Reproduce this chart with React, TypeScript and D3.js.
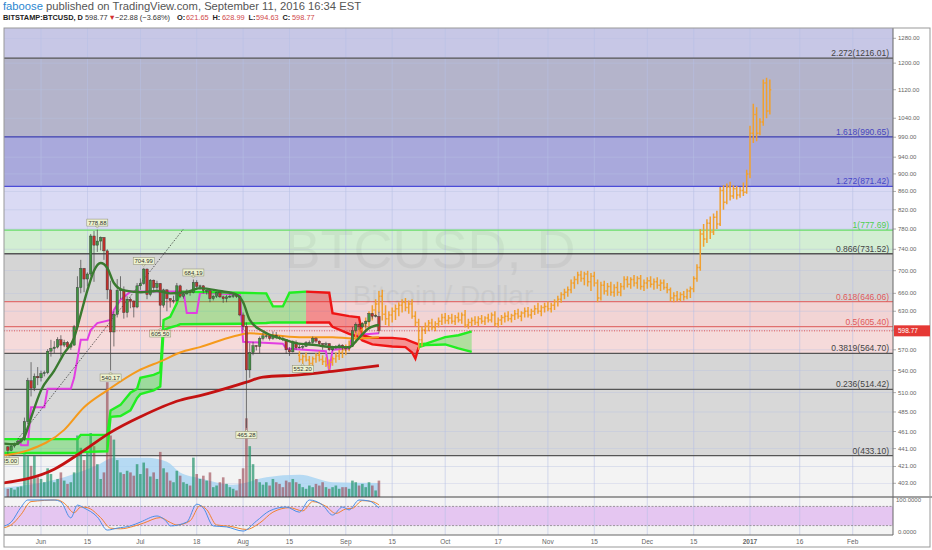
import React from "react";
import * as d3 from "d3";

const W = 932;
const H = 550;
const PL = 4;
const PR = 893;
const PT = 28;
const MB = 497;
const SB = 535;

const parse = (s: string) => d3.utcParse("%Y-%m-%d")(s) as Date;

// daily candles, BITSTAMP:BTCUSD  [open, high, low, close]
const CANDLE_START = "2016-05-22";
const candles: number[][] = [
  [443,444,435,439],[439,446,438,444],[444,448,442,446],[446,451,445,449],[449,453,447,452],[452,478,450,473],[473,530,470,526],[526,552,505,516],[516,536,512,532],[532,545,520,530],
  [530,540,525,536],[536,540,532,537],[537,571,535,568],[568,585,560,572],[572,583,565,574],[574,589,572,585],[585,592,560,577],[577,585,574,581],[581,583,570,574],[574,580,570,577],
  [577,608,576,605],[605,690,603,670],[670,720,660,704],[704,705,662,685],[685,697,672,694],[694,770,690,766],[766,776,680,748],[748,778.88,735,756],[756,765,738,763],[763,764,720,737],
  [737,740,650,666],[666,682,540.17,597],[597,630,575,625],[625,685,620,665],[665,690,650,666],[666,672,618,628],[628,655,620,650],[650,653,635,647],[647,648,620,637],[637,678,635,673],
  [673,686,666,677],[677,704.99,675,703],[703,704,650,658],[658,685,655,683],[683,684,662,670],[670,682,664,677],[677,678,605.5,640],[640,668,636,666],[666,667,630,651],[651,652,636,648],
  [648,656,643,648],[648,678,646,673],[673,675,652,655],[655,662,651,659],[659,667,658,664],[664,666,656,661],[661,684.19,660,679],[679,683,668,672],[672,675,666,673],[673,674,660,665],
  [665,667,658,665],[665,668,645,651],[651,657,648,655],[655,663,652,661],[661,662,652,654],[654,656,644,651],[651,657,645,654],[654,658,652,655],[655,658,652,656],[656,659,652,655],[655,656,622,624],
  [624,628,600,606],[606,612,465.28,541],[541,580,530,566],[566,582,562,576],[576,577,569,575],[575,590,565,587],[587,596,584,591],[591,593,587,591],[591,592,584,587],[587,598,585,592],
  [592,597,586,589],[589,591,585,587],[587,590,583,585],[585,586,564,570],[570,574,561,567],[567,584,566,581],[581,584,570,573],[573,578,572,574],[574,577,571,575],[575,583,574,581],
  [581,584,579,581],[581,590,579,587],[587,589,580,583],[583,584,577,579],[579,580,570,578],[578,582,576,579],[579,580,568,570],[570,576,568,574],[574,577,571,574],[574,579,572,577],[577,578,570,573],
  [573,574,568,572],[572,576,570,575],[575,605,574,599],[599,612,596,609],[609,610,600,605],[605,612,603,610],[610,615,604,613],[613,627,612,626],[626,627,618,622],[622,625,620,623],[621.65,628.99,594.63,598.77],
];

const volumes = [
  10,11,9,12,13,52,50,38,50,24,
  22,18,35,28,18,22,30,20,16,18,
  30,75,60,45,55,78,62,40,22,30,
  140,75,70,45,30,28,32,30,26,40,
  28,42,35,25,30,22,55,35,30,20,
  18,32,26,18,16,14,48,28,22,26,
  20,30,12,14,18,24,16,12,10,8,22,
  35,96,62,40,22,18,15,18,14,22,
  18,16,12,20,18,22,18,16,12,10,
  14,12,16,14,18,12,10,12,14,10,12,
  12,10,20,18,14,16,12,18,14,8,20,
];

// projected bars pattern (orange)  [open, high, low, close]
const PROJ_START = "2016-08-18";
const projection: number[][] = [
  [562,568,552,556],[556,563,548,560],[560,566,553,555],[555,561,545,550],[550,560,546,557],[557,565,551,562],[562,568,553,556],[556,562,548,553],[553,559,545,548],[548,556,542,552],[552,560,547,557],[557,566,551,561],[561,570,555,566],[566,574,558,570],
  [570,578,562,574],[574,584,568,580],[580,592,574,588],[588,598,580,594],[594,604,586,600],[600,612,592,608],[608,620,600,614],[614,630,606,624],[624,640,615,632],[632,650,622,642],
  [642,664,628,655],[655,666,615,625],[625,640,608,618],[618,630,606,624],[624,636,612,630],[630,641,616,634],[634,645,622,640],[640,650,628,645],[645,652,630,636],[636,648,626,642],
  [642,650,618,622],[622,630,606,612],[612,618,570,585],[585,606,575,600],[600,612,594,606],[606,616,598,611],[611,618,600,604],[604,614,598,610],[610,620,604,614],[614,626,608,620],
  [620,627,610,615],[615,624,609,619],[619,626,610,614],[614,624,608,620],[620,628,612,616],[616,628,610,624],[624,632,604,608],[608,618,602,612],[612,620,606,615],[615,622,608,612],
  [612,622,606,618],[618,624,610,614],[614,622,608,619],[619,626,612,616],[616,628,612,624],[624,630,606,610],[610,620,604,616],[616,624,608,620],[620,628,612,622],[622,630,614,618],
  [618,626,612,623],[623,632,616,626],[626,634,618,622],[622,630,614,627],[627,636,620,630],[630,637,620,624],[624,634,618,630],[630,640,624,634],[634,644,626,630],[630,640,622,636],[636,644,628,638],
  [638,646,630,634],[634,644,628,640],[640,650,632,646],[646,656,638,650],[650,662,644,658],[658,668,650,662],[662,672,654,666],[666,684,660,678],[678,690,668,684],[684,698,676,692],
  [692,700,680,686],[686,698,674,694],[694,700,672,680],[680,696,664,690],[690,698,672,678],[678,684,645,652],[652,680,648,674],[674,682,658,664],[664,678,656,672],[672,680,656,662],
  [662,676,654,670],[670,680,656,662],[662,678,655,672],[672,690,666,684],[684,690,670,676],[676,688,668,684],[684,692,672,678],[678,690,668,686],[686,692,666,672],[672,684,664,678],
  [678,688,668,682],[682,690,670,676],[676,686,666,680],[680,688,668,674],[674,684,664,678],[678,684,666,670],[670,678,660,666],[666,670,646,652],[652,662,645,656],[656,664,646,650],
  [650,662,646,658],[658,664,648,654],[654,668,650,664],[664,672,652,668],[668,690,662,686],[686,712,680,706],[706,780,700,770],[770,790,745,760],[760,800,752,792],[792,806,760,774],
  [774,812,768,804],[804,818,780,790],[790,870,786,862],[862,874,820,836],[836,878,832,870],[870,882,840,850],[850,874,844,866],[866,872,842,852],[852,870,846,862],[862,880,850,858],[858,910,855,900],
  [900,1020,890,1000],[1000,1080,975,1050],[1050,1070,980,1000],[1000,1040,995,1030],[1030,1150,1020,1140],[1140,1155,1040,1060],[1060,1150,1050,1120],
];

// overlay lines [date, price]
const emaLine: [string, number][] = [
  ["2016-05-20",447],["2016-05-24",446],["2016-05-27",455],["2016-05-29",478],["2016-06-01",513],["2016-06-05",540],["2016-06-08",565],["2016-06-11",588],["2016-06-13",625],["2016-06-15",665],["2016-06-17",700],["2016-06-19",714],["2016-06-21",705],["2016-06-23",678],["2016-06-26",665],["2016-07-01",662],["2016-07-06",664],["2016-07-10",660],["2016-07-15",662],["2016-07-19",669],["2016-07-25",664],["2016-07-30",658],["2016-08-01",645],["2016-08-03",616],["2016-08-07",598],["2016-08-13",586],["2016-08-17",580],["2016-08-23",577],["2016-08-28",574],["2016-09-02",574],["2016-09-05",588],["2016-09-08",603],["2016-09-11",608],
];
const sma50Line: [string, number][] = [
  ["2016-05-20",433],["2016-05-28",439],["2016-06-08",463],["2016-06-14",491],["2016-06-21",513],["2016-06-30",539],["2016-07-08",555],["2016-07-13",566],["2016-07-19",574],["2016-07-29",590],["2016-08-03",595],["2016-08-18",589],["2016-08-28",589],["2016-09-03",587],["2016-09-11",589],
];
const sma200Line: [string, number][] = [
  ["2016-05-20",403],["2016-06-05",418],["2016-06-14",439],["2016-06-22",460],["2016-07-01",479],["2016-07-13",500],["2016-07-19",506],["2016-08-02",524],["2016-08-07",531],["2016-08-18",534],["2016-08-28",539],["2016-09-11",547],
];
const baseLine: [string, number][] = [
  ["2016-05-20",452],["2016-05-25",452],["2016-05-26",445],["2016-05-28",445],["2016-05-29",491],["2016-06-02",491],["2016-06-03",515],["2016-06-10",515],["2016-06-11",530],["2016-06-13",585],["2016-06-15",585],["2016-06-16",600],["2016-06-18",611],["2016-06-22",616],["2016-06-23",632],["2016-06-25",649],["2016-06-28",663],["2016-07-14",663],["2016-07-15",627],["2016-07-18",627],["2016-07-19",661],["2016-07-31",658],["2016-08-01",582],["2016-08-13",579],["2016-08-14",572],["2016-08-26",568],["2016-08-27",539],["2016-08-28",570],["2016-09-02",572],["2016-09-03",592],["2016-09-11",595],
];
const trendLine: [string, number][] = [["2016-05-25",452],["2016-07-14",780]];

// ichimoku cloud [date, upper, lower]
const greenCloud1: [string, number, number][] = [
  ["2016-05-20",452,436],["2016-06-12",452,436],["2016-06-13",457,437],["2016-06-21",457,438],["2016-06-22",487,479],["2016-06-25",494,480],["2016-06-28",510,487],["2016-06-30",515,503],["2016-07-01",530,508],["2016-07-05",534,513],["2016-07-07",538,518],["2016-07-08",616,600],["2016-07-10",621,604],["2016-07-12",643,607],["2016-07-13",663,609],["2016-07-31",661,610],["2016-08-08",660,611],["2016-08-10",638,612],["2016-08-13",638,612],["2016-08-15",661,612],["2016-08-20",663,612],
];
const redCloud: [string, number, number][] = [
  ["2016-08-20",663,612],["2016-08-27",661,612],["2016-08-28",627,605],["2016-09-02",622,594],["2016-09-05",620,589],["2016-09-06",592,584],["2016-09-09",588,578],["2016-09-15",588,575],["2016-09-19",586,574],["2016-09-21",582,566],["2016-09-22",580,557],["2016-09-23",578,574],
];
const greenCloud2: [string, number, number][] = [
  ["2016-09-23",578,574],["2016-09-25",579,577],["2016-10-01",589,578],["2016-10-05",592,572],["2016-10-09",598,567],
];

const volumeMA: [string, number][] = [
  ["2016-05-20",11],["2016-06-08",24],["2016-06-18",39],["2016-06-23",48],["2016-07-03",48],["2016-07-09",43],["2016-07-13",30],["2016-07-19",23],["2016-07-29",15],["2016-08-08",24],["2016-08-18",27],["2016-08-28",18],["2016-09-11",17],
];

// stochastic
const stochK: [string, number][] = [
  ["2016-05-20",16],["2016-05-23",31],["2016-05-26",78],["2016-05-28",100],["2016-06-05",100],["2016-06-07",94],["2016-06-10",44],["2016-06-12",84],["2016-06-14",75],["2016-06-18",47],["2016-06-21",6],["2016-06-24",12],["2016-06-28",19],["2016-07-01",31],["2016-07-06",50],["2016-07-09",31],["2016-07-10",19],["2016-07-15",31],["2016-07-18",87],["2016-07-20",75],["2016-07-23",19],["2016-07-27",16],["2016-08-01",3],["2016-08-05",34],["2016-08-09",66],["2016-08-14",78],["2016-08-18",62],["2016-08-21",100],["2016-08-25",84],["2016-08-28",53],["2016-08-31",78],["2016-09-02",69],["2016-09-05",100],["2016-09-08",97],["2016-09-11",75],
];
const stochD: [string, number][] = [
  ["2016-05-20",12],["2016-05-23",22],["2016-05-26",55],["2016-05-29",95],["2016-06-06",100],["2016-06-08",90],["2016-06-11",60],["2016-06-13",78],["2016-06-15",76],["2016-06-19",45],["2016-06-22",12],["2016-06-25",10],["2016-06-29",18],["2016-07-02",28],["2016-07-07",45],["2016-07-10",30],["2016-07-12",22],["2016-07-16",35],["2016-07-19",82],["2016-07-21",70],["2016-07-24",22],["2016-07-28",18],["2016-08-02",8],["2016-08-06",28],["2016-08-10",62],["2016-08-15",76],["2016-08-19",66],["2016-08-22",95],["2016-08-26",80],["2016-08-29",58],["2016-09-01",72],["2016-09-03",74],["2016-09-06",98],["2016-09-09",95],["2016-09-11",85],
];

// fibonacci retracement
const fibRatios = ["2.272","1.618","1.272","1","0.866","0.618","0.5","0.3819","0.236","0"];
const fibPrices = [1216.01, 990.65, 871.42, 777.69, 731.52, 646.06, 605.40, 564.70, 514.42, 433.10];
const fibLineColors = ["#555","#3c3cb0","#4b4bd8","#66dd66","#555","#e07070","#e07070","#555","#555","#555"];
const fibTextColors = ["#444","#4646c0","#4646c8","#4fcf4f","#444","#e05a5a","#e05a5a","#444","#444","#444"];
const zoneColors = ["#c7c7e6","#b4b4cb","#a9a9dc","#dadaf4","#d3eed3","#d5d5d5","#f2d4d4","#f5dada","#d6d6d6","#d8d8d8","#f3f3f3"];

const priceTicks = [1280,1200,1120,1040,990,940,900,860,820,780,740,700,660,630,600,570,540,510,485,461,441,421,403];
const xTickDates = ["2016-06-01","2016-06-15","2016-07-01","2016-07-18","2016-08-01","2016-08-15","2016-09-01","2016-09-15","2016-10-01","2016-10-17","2016-11-01","2016-11-15","2016-12-01","2016-12-15","2017-01-01","2017-01-16","2017-02-01"];
const xTickLabels = ["Jun","15","Jul","18","Aug","15","Sep","15","Oct","17","Nov","15","Dec","15","2017","16","Feb"];

const labelDates = ["2016-06-18","2016-07-02","2016-07-17","2016-07-07","2016-06-22","2016-08-02","2016-08-19","2016-05-22"];
const labelPrices = [778.88, 704.99, 684.19, 605.50, 540.17, 465.28, 552.20, 435.00];
const labelAbove = [true, true, true, false, false, false, false, false];

// header quote line pieces
const quoteParts = ["BITSTAMP:BTCUSD, D", "598.77", "▼", "−22.88 (−3.68%)", "O:", "621.65", "H:", "628.99", "L:", "594.63", "C:", "598.77"];
const quoteColors = ["#222", "#333", "#d32f2f", "#333", "#222", "#d04848", "#222", "#d04848", "#222", "#d04848", "#222", "#d04848"];
const quoteX = [3, 85, 108.5, 115, 177, 186, 212.5, 222, 248.5, 256, 282.5, 292];

const LAST = 598.77;

export default function App() {
  const x = d3.scaleUtc().domain([parse("2016-06-01"), parse("2017-02-01")]).range([41, 852.7]);
  const y = d3.scaleLog().domain([403, 1280]).range([483.3, 38.3]);
  const sy = d3.scaleLinear().domain([0, 100]).range([532, 500]);
  const vy = d3.scaleLinear().domain([0, 100]).range([MB, 415]);

  const dayX = (start: string, i: number) => x(d3.utcDay.offset(parse(start), i));

  const smooth = d3.line<[string, number]>().x((d) => x(parse(d[0]))).y((d) => y(d[1])).curve(d3.curveMonotoneX);
  const straight = d3.line<[string, number]>().x((d) => x(parse(d[0]))).y((d) => y(d[1]));
  const stochLine = d3.line<[string, number]>().x((d) => x(parse(d[0]))).y((d) => sy(d[1])).curve(d3.curveMonotoneX);
  const cloudArea = d3.area<[string, number, number]>().x((d) => x(parse(d[0]))).y0((d) => y(d[2])).y1((d) => y(d[1]));
  const cloudTop = d3.line<[string, number, number]>().x((d) => x(parse(d[0]))).y((d) => y(d[1]));
  const cloudBot = d3.line<[string, number, number]>().x((d) => x(parse(d[0]))).y((d) => y(d[2]));
  const volArea = d3.area<[string, number]>().x((d) => x(parse(d[0]))).y0(MB).y1((d) => vy(d[1])).curve(d3.curveMonotoneX);

  const fibY = fibPrices.map((p) => y(p));
  const bounds = [PT, ...fibY, MB];
  const lastY = y(LAST);

  const clouds = [
    { data: greenCloud1, fill: "rgba(40,230,40,0.33)", stroke: "#22ee22" },
    { data: redCloud, fill: "rgba(245,30,30,0.38)", stroke: "#ee1515" },
    { data: greenCloud2, fill: "rgba(40,230,40,0.33)", stroke: "#22ee22" },
  ];

  return (
    <svg width={W} height={H} style={{ display: "block", background: "#fff" }} fontFamily="'Liberation Sans', Arial, sans-serif">
      <style>{`body{margin:0}`}</style>
      <defs>
        <clipPath id="mainClip"><rect x={PL} y={PT} width={PR - PL} height={MB - PT} /></clipPath>
        <clipPath id="stochClip"><rect x={PL} y={MB} width={PR - PL} height={SB - MB} /></clipPath>
      </defs>

      {/* header */}
      <text x={3} y={9.5} fontSize={11} textLength={358} lengthAdjust="spacingAndGlyphs" fill="#555">
        <tspan fill="#2a86d0">faboose</tspan>
        <tspan> published on TradingView.com, September 11, 2016 16:34 EST</tspan>
      </text>
      {quoteParts.map((p, i) => (
        <text key={"q" + i} x={quoteX[i]} y={20.2} fontSize={7.4} fill={quoteColors[i]}
          fontWeight={i === 0 || p.endsWith(":") ? "bold" : "normal"}>
          {p}
        </text>
      ))}

      {/* main pane */}
      <g clipPath="url(#mainClip)">
        {zoneColors.map((c, i) => (
          <rect key={"z" + i} x={PL} y={bounds[i]} width={PR - PL} height={bounds[i + 1] - bounds[i]} fill={c} />
        ))}
        {priceTicks.map((t) => (
          <line key={"hg" + t} x1={PL} x2={PR} y1={y(t)} y2={y(t)} stroke="#b8c2e2" strokeWidth={0.6} opacity={0.7} />
        ))}
        {xTickDates.map((d) => (
          <line key={"vg" + d} x1={x(parse(d))} x2={x(parse(d))} y1={PT} y2={MB} stroke="#b8c2e6" strokeWidth={0.7} opacity={0.8} />
        ))}
        {fibY.map((fy, i) => (
          <line key={"fl" + i} x1={PL} x2={PR} y1={fy} y2={fy} stroke={fibLineColors[i]} strokeWidth={1.3} />
        ))}
        {fibY.map((fy, i) => (
          <text key={"ft" + i} x={PR - 4} y={fy - 2} fontSize={8.5} textAnchor="end" fill={fibTextColors[i]}>
            {fibRatios[i]}({fibPrices[i].toFixed(2)})
          </text>
        ))}

        <text x={430} y={268} fontSize={54} textAnchor="middle" fill="#000" opacity={0.04}>BTCUSD, D</text>
        <text x={443} y={305} fontSize={28} textAnchor="middle" fill="#000" opacity={0.04}>Bitcoin / Dollar</text>

        <path d={volArea(volumeMA) || ""} fill="#a6d3f2" opacity={0.8} />
        {volumes.map((v, i) => {
          const c = candles[i];
          const cx = dayX(CANDLE_START, i);
          return (
            <rect key={"v" + i} x={cx - 1.3} y={vy(v)} width={2.6} height={MB - vy(v)}
              fill={c[3] >= c[0] ? "rgba(40,150,110,0.72)" : "rgba(150,60,70,0.58)"} />
          );
        })}

        {clouds.map((c, i) => (
          <path key={"cf" + i} d={cloudArea(c.data) || ""} fill={c.fill} />
        ))}
        <path d={straight(baseLine) || ""} fill="none" stroke="#e23ee2" strokeWidth={2} />
        {clouds.map((c, i) => (
          <g key={"cl" + i}>
            <path d={cloudTop(c.data) || ""} fill="none" stroke={c.stroke} strokeWidth={2.4} />
            <path d={cloudBot(c.data) || ""} fill="none" stroke={c.stroke} strokeWidth={2.4} />
          </g>
        ))}
        <path d={smooth(sma50Line) || ""} fill="none" stroke="#f59a1c" strokeWidth={2} />
        <path d={smooth(sma200Line) || ""} fill="none" stroke="#c41212" strokeWidth={2.8} />

        {projection.map((b, i) => {
          const cx = dayX(PROJ_START, i);
          return (
            <path key={"p" + i}
              d={`M${cx},${y(b[1])}V${y(b[2])}M${cx - 1.4},${y(b[0])}H${cx}M${cx},${y(b[3])}H${cx + 1.4}`}
              stroke="#f0a030" strokeWidth={1.5} fill="none" />
          );
        })}

        <path d={straight(trendLine) || ""} fill="none" stroke="#222" strokeWidth={0.7} strokeDasharray="1.5,1.5" />

        {candles.map((c, i) => {
          const cx = dayX(CANDLE_START, i);
          const up = c[3] >= c[0];
          const top = y(Math.max(c[0], c[3]));
          const bot = y(Math.min(c[0], c[3]));
          return (
            <g key={"c" + i}>
              <line x1={cx} x2={cx} y1={y(c[1])} y2={y(c[2])} stroke="#444" strokeWidth={0.7} />
              <rect x={cx - 1.2} y={top} width={2.4} height={Math.max(bot - top, 0.8)}
                fill={up ? "#3f9440" : "#c0302c"} stroke="#333" strokeWidth={0.4} />
            </g>
          );
        })}

        <path d={smooth(emaLine) || ""} fill="none" stroke="#3a7a30" strokeWidth={2.4} />

        {labelDates.map((d, i) => {
          const cx = x(parse(d));
          const py = y(labelPrices[i]);
          const bw = 21;
          const bh = 7;
          const by = labelAbove[i] ? py - 3.5 - bh : py + 3.5;
          const tip = labelAbove[i]
            ? `M${cx - 1.8},${by + bh}L${cx},${by + bh + 2}L${cx + 1.8},${by + bh}Z`
            : `M${cx - 1.8},${by}L${cx},${by - 2}L${cx + 1.8},${by}Z`;
          return (
            <g key={"lb" + i}>
              <rect x={cx - bw / 2} y={by} width={bw} height={bh} fill="#eef3cf" stroke="#8a8a70" strokeWidth={0.5} />
              <path d={tip} fill="#eef3cf" stroke="#8a8a70" strokeWidth={0.5} />
              <text x={cx} y={by + bh - 1.3} fontSize={6} textAnchor="middle" fill="#333">{labelPrices[i].toFixed(2)}</text>
            </g>
          );
        })}

        <line x1={PL} x2={PR} y1={lastY} y2={lastY} stroke="#d33" strokeWidth={0.8} strokeDasharray="1,1.5" />
      </g>

      {/* stochastic pane */}
      <g clipPath="url(#stochClip)">
        <rect x={PL} y={MB} width={PR - PL} height={SB - MB} fill="#f4f4f4" />
        <rect x={PL} y={sy(80)} width={PR - PL} height={sy(20) - sy(80)} fill="#e5c6f1" />
        {xTickDates.map((d) => (
          <line key={"svg" + d} x1={x(parse(d))} x2={x(parse(d))} y1={MB} y2={SB} stroke="#b8c2e6" strokeWidth={0.7} opacity={0.8} />
        ))}
        <line x1={PL} x2={PR} y1={sy(80)} y2={sy(80)} stroke="#777" strokeWidth={0.7} strokeDasharray="2,1.5" />
        <line x1={PL} x2={PR} y1={sy(20)} y2={sy(20)} stroke="#777" strokeWidth={0.7} strokeDasharray="2,1.5" />
        <path d={stochLine(stochD) || ""} fill="none" stroke="#f0822e" strokeWidth={1} />
        <path d={stochLine(stochK) || ""} fill="none" stroke="#4a8fe7" strokeWidth={1} />
      </g>

      {/* frames */}
      <line x1={PL} x2={W} y1={MB} y2={MB} stroke="#444" strokeWidth={1.2} />
      <line x1={PL} x2={PR} y1={SB} y2={SB} stroke="#666" strokeWidth={1} />
      <line x1={PR} x2={PR} y1={PT} y2={SB} stroke="#666" strokeWidth={1} />
      <rect x={PL} y={PT} width={W - PL - 2} height={H - PT - 3} fill="none" stroke="#999" strokeWidth={1} />

      {/* right price axis */}
      {priceTicks.map((t) => (
        <g key={"pt" + t}>
          <line x1={PR} x2={PR + 3} y1={y(t)} y2={y(t)} stroke="#777" strokeWidth={0.6} />
          <text x={PR + 5} y={y(t) + 2} fontSize={6} fill="#666">{t.toFixed(2)}</text>
        </g>
      ))}
      <rect x={PR + 1} y={lastY - 5.5} width={W - PR - 3} height={11} fill="#e53935" />
      <text x={PR + 5} y={lastY + 2.3} fontSize={6.5} fill="#fff">{LAST.toFixed(2)}</text>
      <text x={PR + 3} y={sy(100) + 2} fontSize={6} fill="#666">100.0000</text>
      <text x={PR + 5} y={sy(0) + 2} fontSize={6} fill="#666">0.0000</text>

      {/* time axis */}
      {xTickDates.map((d, i) => (
        <text key={"xt" + d} x={x(parse(d))} y={543.5} fontSize={6.5} textAnchor="middle" fill="#666"
          fontWeight={xTickLabels[i] === "2017" ? "bold" : "normal"}>
          {xTickLabels[i]}
        </text>
      ))}
    </svg>
  );
}
